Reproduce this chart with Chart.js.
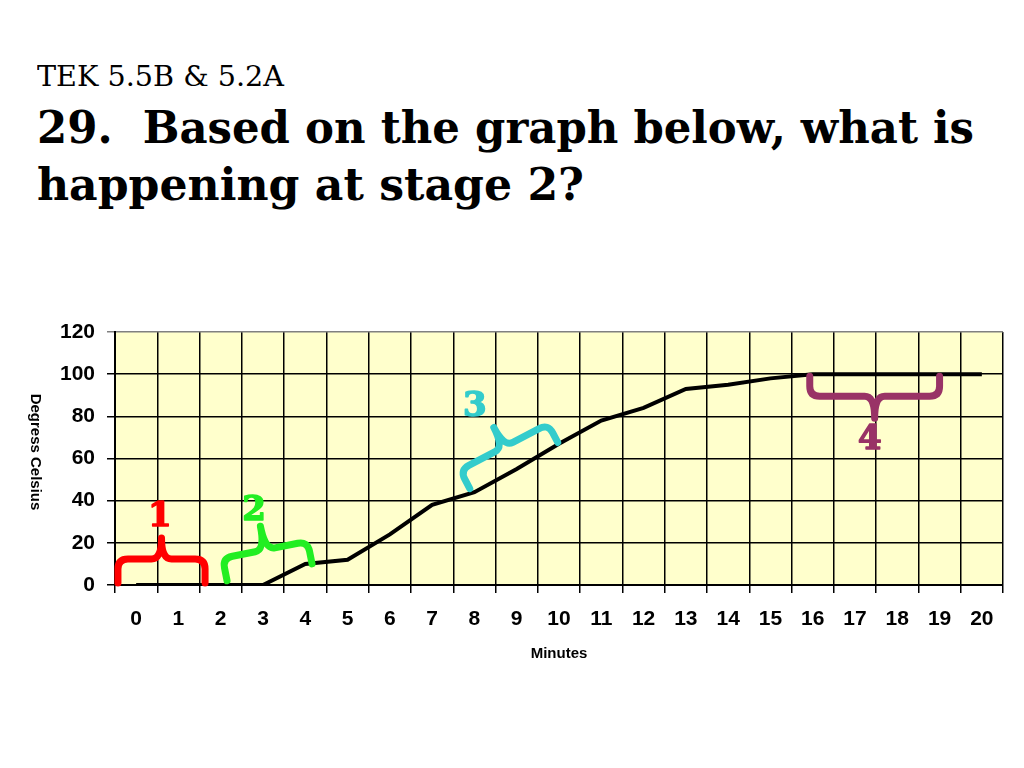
<!DOCTYPE html>
<html>
<head>
<meta charset="utf-8">
<script src="https://cdn.jsdelivr.net/npm/chart.js@4.4.1/dist/chart.umd.min.js"></script>
<style>
  body { margin: 0; background: #fff; width: 1024px; height: 768px; overflow: hidden; position: relative; }
  .title { position: absolute; left: 37px; white-space: pre; transform-origin: 0 0; color: #000;
           font-family: 'DejaVu Serif', serif; line-height: normal; }
  #wrap { position: absolute; left: 0; top: 300px; width: 1024px; height: 400px; }
</style>
</head>
<body>
<div class="title" id="t1" style="top:60px;font-size:28px;">TEK 5.5B &amp; 5.2A</div>
<div class="title" id="t2" style="top:101px;font-size:45px;font-weight:bold;">29.  Based on the graph below, what is</div>
<div class="title" id="t3" style="top:158px;font-size:45px;font-weight:bold;">happening at stage 2?</div>
<div id="wrap"><canvas id="chart" width="1024" height="400"></canvas></div>
<script>
// chart data
const minutes = ['0', '1', '2', '3', '4', '5', '6', '7', '8', '9', '10',
                 '11', '12', '13', '14', '15', '16', '17', '18', '19', '20'];
const degrees = [0, 0, 0, 0, 10, 12, 24, 38, 44, 55, 67, 78, 84, 93, 95, 98, 100, 100, 100, 100, 100];
const yTicks = [0, 20, 40, 60, 80, 100, 120];

// stage markers, in (minute index, degrees)
const stageNames = ['1', '2', '3', '4'];
const stageFrom = [[-0.43, 1], [2.15, 2], [7.89, 45.7], [15.93, 99]];
const stageTo = [[1.63, 1], [4.16, 10], [9.97, 67.6], [19.0, 99]];
const stageNameAt = [[0.56, 32], [2.79, 35.2], [8.01, 84.3], [17.35, 68.6]];

// stage marker look
const stageColors = ['#FF0000', '#22EE22', '#33CCCC', '#993366'];
const braceDepth = [24, 23, 21, -20];
const braceTip = [21, 24, 22, -22];

// squeeze the title lines to the widths in the slide
function fitTitle(id, width) {
    const el = document.getElementById(id);
    const w = el.getBoundingClientRect().width;
    el.style.transform = 'scaleX(' + (width / w) + ')';
}
fitTitle('t1', 247);
fitTitle('t2', 937);
fitTitle('t3', 547);

const plotBackground = {
    id: 'plotBackground',
    beforeDraw(chart) {
        const { ctx, chartArea: a } = chart;
        ctx.save();
        ctx.fillStyle = '#FFFFCC';
        ctx.fillRect(a.left, a.top, a.right - a.left, a.bottom - a.top);
        ctx.restore();
    }
};

function drawBrace(ctx, p1, p2, d, h) {
    const dx = p2[0] - p1[0], dy = p2[1] - p1[1];
    const L = Math.hypot(dx, dy);
    const u = [dx / L, dy / L];
    const n = [u[1], -u[0]];
    const P = (s, t) => [p1[0] + u[0] * s + n[0] * t, p1[1] + u[1] * s + n[1] * t];
    const r = 10;
    const sg = Math.sign(d);
    const m = L / 2;
    const pts = [
        ['M', P(0, 0)],
        ['L', P(0, d - sg * r)],
        ['Q', P(0, d), P(r, d)],
        ['L', P(m - r, d)],
        ['Q', P(m, d), P(m, d + h)],
        ['Q', P(m, d), P(m + r, d)],
        ['L', P(L - r, d)],
        ['Q', P(L, d), P(L, d - sg * r)],
        ['L', P(L, 0)]
    ];
    ctx.beginPath();
    pts.forEach(s => {
        if (s[0] === 'M') ctx.moveTo(s[1][0], s[1][1]);
        else if (s[0] === 'L') ctx.lineTo(s[1][0], s[1][1]);
        else ctx.quadraticCurveTo(s[1][0], s[1][1], s[2][0], s[2][1]);
    });
    ctx.stroke();
}

const stageBraces = {
    id: 'stageBraces',
    afterDatasetsDraw(chart) {
        const { ctx, scales: { x, y } } = chart;
        const x0 = x.getPixelForValue(0);
        const step = x.getPixelForValue(1) - x0;
        const pt = (v) => [x0 + v[0] * step, y.getPixelForValue(v[1])];
        ctx.save();
        ctx.lineWidth = 7;
        ctx.lineCap = 'round';
        ctx.lineJoin = 'round';
        stageNames.forEach((name, i) => {
            ctx.strokeStyle = stageColors[i];
            drawBrace(ctx, pt(stageFrom[i]), pt(stageTo[i]), braceDepth[i], braceTip[i]);
            const at = pt(stageNameAt[i]);
            ctx.fillStyle = stageColors[i];
            ctx.strokeStyle = stageColors[i];
            ctx.lineWidth = 1.5;
            ctx.font = 'bold 34px "DejaVu Serif"';
            ctx.textAlign = 'center';
            ctx.textBaseline = 'middle';
            ctx.fillText(name, at[0], at[1]);
            ctx.strokeText(name, at[0], at[1]);
            ctx.lineWidth = 7;
        });
        ctx.restore();
    }
};

// Excel-style y title, reading top to bottom
const yTitle = {
    id: 'yTitle',
    afterDraw(chart) {
        const { ctx } = chart;
        ctx.save();
        ctx.translate(35, 152);
        ctx.rotate(Math.PI / 2);
        ctx.fillStyle = '#000';
        ctx.font = 'bold 15px "Liberation Sans", Arial';
        ctx.textAlign = 'center';
        ctx.textBaseline = 'middle';
        ctx.fillText('Degress Celsius', 0, 0);
        ctx.restore();
    }
};

new Chart(document.getElementById('chart'), {
    type: 'line',
    data: {
        labels: minutes,
        datasets: [{
            data: degrees,
            borderColor: '#000',
            borderWidth: 4,
            pointRadius: 0,
            tension: 0,
            fill: false
        }]
    },
    options: {
        responsive: false,
        animation: false,
        layout: { padding: { left: 0, right: 21, top: 32, bottom: 0 } },
        plugins: { legend: { display: false }, tooltip: { enabled: false } },
        scales: {
            x: {
                type: 'category',
                offset: true,
                afterFit(scale) { scale.height = 115; },
                grid: {
                    offset: true,
                    color: (c) => c.index === minutes.length ? '#808080' : '#000',
                    lineWidth: 1.5,
                    tickLength: 8
                },
                border: { color: '#000', width: 2 },
                ticks: {
                    color: '#000',
                    padding: 14,
                    maxRotation: 0,
                    autoSkip: false,
                    font: { family: '"Liberation Sans", Arial', size: 21, weight: 'bold' }
                },
                title: {
                    display: true,
                    text: 'Minutes',
                    color: '#000',
                    padding: { top: 0, bottom: 37 },
                    font: { family: '"Liberation Sans", Arial', size: 15, weight: 'bold' }
                }
            },
            y: {
                min: yTicks[0],
                max: yTicks[yTicks.length - 1],
                afterFit(scale) { scale.width = 115; },
                afterBuildTicks(scale) { scale.ticks = yTicks.map(v => ({ value: v })); },
                grid: {
                    color: (c) => c.tick && c.tick.value === yTicks[yTicks.length - 1] ? '#808080' : '#000',
                    lineWidth: 1.5,
                    tickLength: 8
                },
                border: { color: '#000', width: 2 },
                ticks: {
                    color: '#000',
                    padding: 12,
                    font: { family: '"Liberation Sans", Arial', size: 21, weight: 'bold' }
                }
            }
        }
    },
    plugins: [plotBackground, stageBraces, yTitle]
});
</script>
</body>
</html>
